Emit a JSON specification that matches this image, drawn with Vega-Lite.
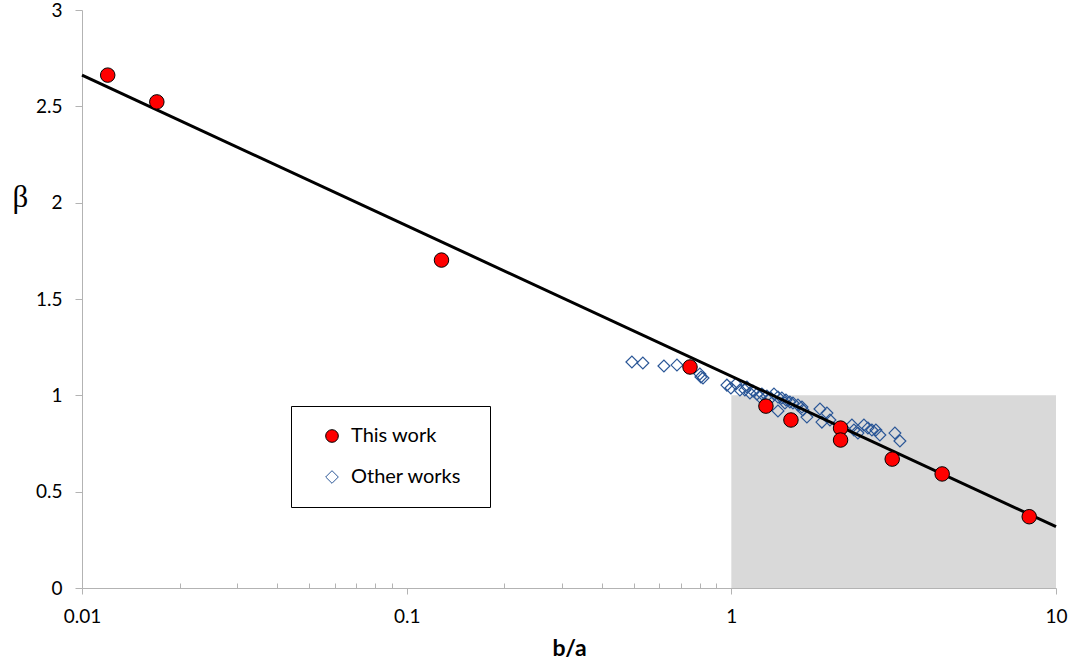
{
  "$schema": "https://vega.github.io/schema/vega-lite/v6.json",
  "width": 974,
  "height": 578,
  "autosize": {"type": "none"},
  "padding": {"left": 82, "top": 10, "right": 22, "bottom": 78},
  "background": "white",
  "config": {
    "view": {"stroke": null},
    "font": "Lato",
    "legend": {
      "orient": "none",
      "legendX": 209,
      "legendY": 396,
      "strokeColor": "#000000",
      "strokeWidth": 1,
      "fillColor": "white",
      "padding": 20,
      "rowPadding": 21,
      "symbolSize": 160,
      "symbolStrokeWidth": 1,
      "symbolOffset": 11,
      "labelOffset": 9,
      "labelFont": "Lato",
      "labelFontSize": 20,
      "labelColor": "#000000",
      "titleOrient": "right",
      "titlePadding": 9,
      "titleFontSize": 10
    }
  },
  "datasets": {
    "shade": [{"ba": 1, "ba2": 10, "beta": 0, "beta2": 1}],
    "fit": [{"ba": 0.01, "beta": 2.662}, {"ba": 10, "beta": 0.318}],
    "thiswork": [
      {"ba": 0.0120, "beta": 2.662, "series": "This work"},
      {"ba": 0.0170, "beta": 2.523, "series": "This work"},
      {"ba": 0.128, "beta": 1.702, "series": "This work"},
      {"ba": 0.746, "beta": 1.147, "series": "This work"},
      {"ba": 1.278, "beta": 0.944, "series": "This work"},
      {"ba": 1.526, "beta": 0.872, "series": "This work"},
      {"ba": 2.17, "beta": 0.830, "series": "This work"},
      {"ba": 2.17, "beta": 0.768, "series": "This work"},
      {"ba": 3.13, "beta": 0.669, "series": "This work"},
      {"ba": 4.46, "beta": 0.592, "series": "This work"},
      {"ba": 8.27, "beta": 0.370, "series": "This work"}
    ],
    "others": [
      {"ba": 0.494, "beta": 1.173, "series": "Other works"},
      {"ba": 0.534, "beta": 1.168, "series": "Other works"},
      {"ba": 0.620, "beta": 1.152, "series": "Other works"},
      {"ba": 0.680, "beta": 1.157, "series": "Other works"},
      {"ba": 0.800, "beta": 1.111, "series": "Other works"},
      {"ba": 0.806, "beta": 1.095, "series": "Other works"},
      {"ba": 0.818, "beta": 1.090, "series": "Other works"},
      {"ba": 0.969, "beta": 1.053, "series": "Other works"},
      {"ba": 0.997, "beta": 1.038, "series": "Other works"},
      {"ba": 1.033, "beta": 1.059, "series": "Other works"},
      {"ba": 1.063, "beta": 1.028, "series": "Other works"},
      {"ba": 1.101, "beta": 1.028, "series": "Other works"},
      {"ba": 1.117, "beta": 1.043, "series": "Other works"},
      {"ba": 1.141, "beta": 1.012, "series": "Other works"},
      {"ba": 1.166, "beta": 1.022, "series": "Other works"},
      {"ba": 1.199, "beta": 1.007, "series": "Other works"},
      {"ba": 1.225, "beta": 0.991, "series": "Other works"},
      {"ba": 1.242, "beta": 1.007, "series": "Other works"},
      {"ba": 1.287, "beta": 0.996, "series": "Other works"},
      {"ba": 1.324, "beta": 0.986, "series": "Other works"},
      {"ba": 1.353, "beta": 1.007, "series": "Other works"},
      {"ba": 1.392, "beta": 0.991, "series": "Other works"},
      {"ba": 1.392, "beta": 0.919, "series": "Other works"},
      {"ba": 1.431, "beta": 0.986, "series": "Other works"},
      {"ba": 1.463, "beta": 0.960, "series": "Other works"},
      {"ba": 1.473, "beta": 0.976, "series": "Other works"},
      {"ba": 1.515, "beta": 0.965, "series": "Other works"},
      {"ba": 1.548, "beta": 0.960, "series": "Other works"},
      {"ba": 1.604, "beta": 0.950, "series": "Other works"},
      {"ba": 1.650, "beta": 0.939, "series": "Other works"},
      {"ba": 1.661, "beta": 0.924, "series": "Other works"},
      {"ba": 1.709, "beta": 0.887, "series": "Other works"},
      {"ba": 1.875, "beta": 0.929, "series": "Other works"},
      {"ba": 1.901, "beta": 0.861, "series": "Other works"},
      {"ba": 1.970, "beta": 0.908, "series": "Other works"},
      {"ba": 2.013, "beta": 0.872, "series": "Other works"},
      {"ba": 2.352, "beta": 0.846, "series": "Other works"},
      {"ba": 2.386, "beta": 0.820, "series": "Other works"},
      {"ba": 2.454, "beta": 0.804, "series": "Other works"},
      {"ba": 2.561, "beta": 0.846, "series": "Other works"},
      {"ba": 2.635, "beta": 0.830, "series": "Other works"},
      {"ba": 2.710, "beta": 0.820, "series": "Other works"},
      {"ba": 2.788, "beta": 0.820, "series": "Other works"},
      {"ba": 2.868, "beta": 0.794, "series": "Other works"},
      {"ba": 3.190, "beta": 0.804, "series": "Other works"},
      {"ba": 3.306, "beta": 0.763, "series": "Other works"}
    ]
  },
  "layer": [
    {
      "data": {"name": "shade"},
      "mark": {"type": "rect", "color": "#D9D9D9"},
      "encoding": {
        "x": {
          "field": "ba",
          "type": "quantitative",
          "scale": {"type": "log", "domain": [0.01, 10], "nice": false},
          "axis": {
            "title": "b/a",
            "values": [0.01, 0.02, 0.03, 0.04, 0.05, 0.06, 0.07, 0.08, 0.09, 0.1, 0.2, 0.3, 0.4, 0.5, 0.6, 0.7, 0.8, 0.9, 1, 2, 3, 4, 5, 6, 7, 8, 9, 10],
            "labelExpr": "datum.value == 0.01 ? '0.01' : datum.value == 0.1 ? '0.1' : datum.value == 1 ? '1' : datum.value == 10 ? '10' : ''",
            "grid": false,
            "domainColor": "#B3B3B3",
            "tickColor": "#B3B3B3",
            "tickSize": {"condition": {"test": "datum.value == 0.01 || datum.value == 0.1 || datum.value == 1 || datum.value == 10", "value": 6}, "value": -5},
            "labelFont": "Lato",
            "labelFontSize": 19,
            "labelColor": "#000000",
            "labelBaseline": "alphabetic",
            "labelPadding": 28,
            "labelFlush": false,
            "labelOverlap": false,
            "titleFont": "Lato",
            "titleFontSize": 23,
            "titleFontWeight": "bold",
            "titleColor": "#000000",
            "titleX": 487,
            "titleY": 67,
            "titleAlign": "center",
            "titleBaseline": "alphabetic"
          }
        },
        "x2": {"field": "ba2"},
        "y": {
          "field": "beta",
          "type": "quantitative",
          "scale": {"domain": [0, 3], "nice": false, "zero": false},
          "axis": {
            "title": "β",
            "values": [0, 0.5, 1, 1.5, 2, 2.5, 3],
            "format": "~g",
            "grid": false,
            "domainColor": "#B3B3B3",
            "tickColor": "#B3B3B3",
            "tickSize": 7,
            "labelPadding": 13,
            "labelFont": "Lato",
            "labelFontSize": 19,
            "labelColor": "#000000",
            "titleFont": "Liberation Serif",
            "titleFontSize": 31,
            "titleFontWeight": "normal",
            "titleColor": "#000000",
            "titleAngle": 0,
            "titleX": -62,
            "titleY": 187,
            "titleAlign": "center",
            "titleBaseline": "middle"
          }
        },
        "y2": {"field": "beta2"}
      }
    },
    {
      "data": {"name": "others"},
      "mark": {"type": "point", "size": 140, "strokeWidth": 1.2, "opacity": 1},
      "encoding": {
        "x": {"field": "ba", "type": "quantitative"},
        "y": {"field": "beta", "type": "quantitative"},
        "shape": {"field": "series", "type": "nominal", "scale": {"domain": ["This work", "Other works"], "range": ["circle", "diamond"]}, "legend": {"title": " "}},
        "fill": {"field": "series", "type": "nominal", "scale": {"domain": ["This work", "Other works"], "range": ["#FF0000", "transparent"]}, "legend": {"title": " "}},
        "stroke": {"field": "series", "type": "nominal", "scale": {"domain": ["This work", "Other works"], "range": ["#000000", "#2B5797"]}, "legend": {"title": " "}}
      }
    },
    {
      "data": {"name": "fit"},
      "mark": {"type": "line", "color": "#000000", "strokeWidth": 3},
      "encoding": {
        "x": {"field": "ba", "type": "quantitative"},
        "y": {"field": "beta", "type": "quantitative"}
      }
    },
    {
      "data": {"name": "thiswork"},
      "mark": {"type": "point", "size": 210, "strokeWidth": 1, "opacity": 1},
      "encoding": {
        "x": {"field": "ba", "type": "quantitative"},
        "y": {"field": "beta", "type": "quantitative"},
        "shape": {"field": "series", "type": "nominal"},
        "fill": {"field": "series", "type": "nominal"},
        "stroke": {"field": "series", "type": "nominal"}
      }
    }
  ]
}
